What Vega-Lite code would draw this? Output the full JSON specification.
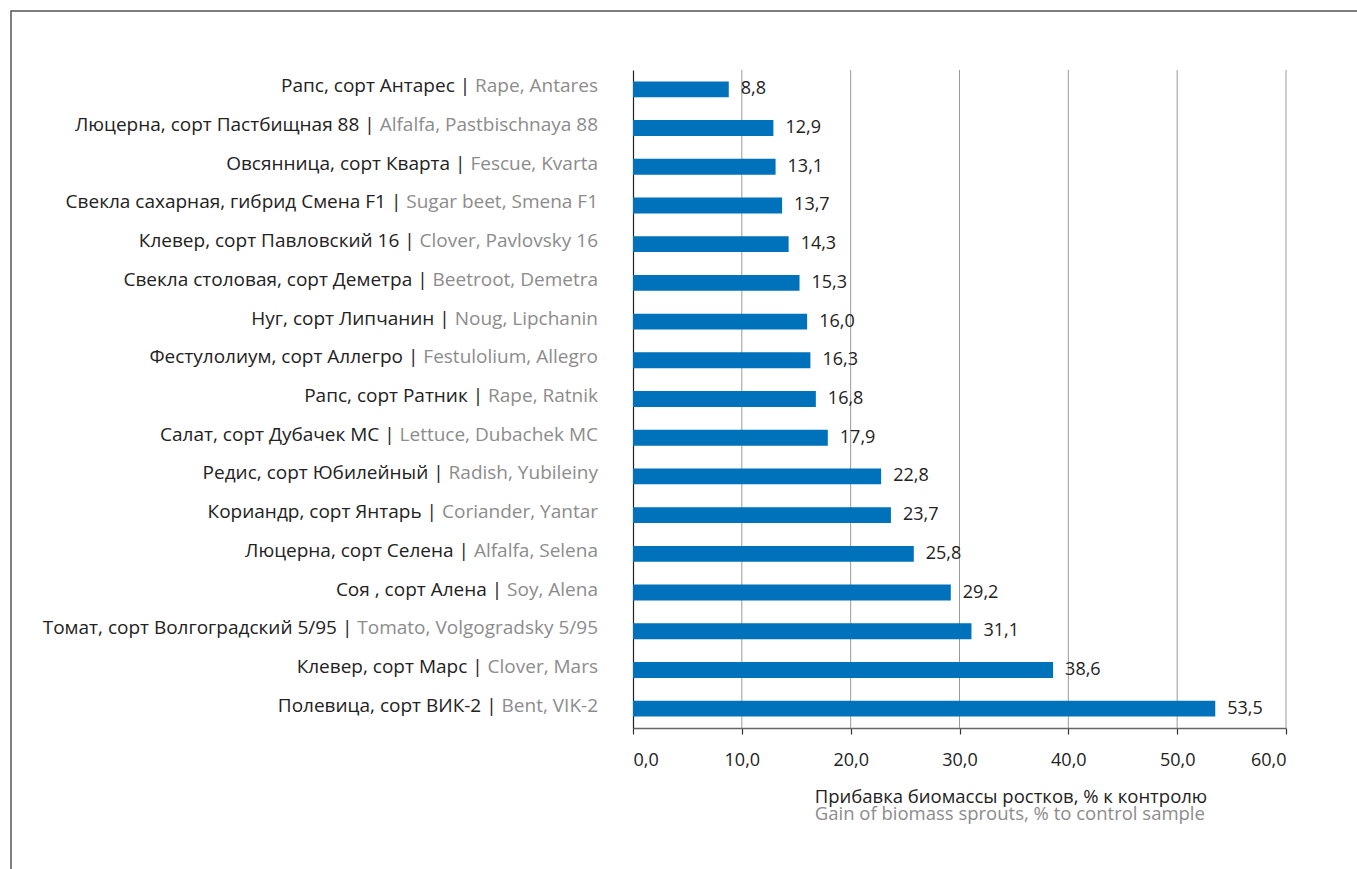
{
  "$schema": "https://vega.github.io/schema/vega-lite/v6.json",
  "width": 1346,
  "height": 858,
  "autosize": {"type": "none"},
  "padding": {"left": 11, "top": 11, "right": 0, "bottom": 0},
  "background": "white",
  "config": {
    "view": {"stroke": "#555555", "strokeWidth": 1.5, "strokeDash": [1346, 2204, 858]},
    "font": "Open Sans",
    "text": {"font": "Open Sans"},
    "locale": {"number": {"decimal": ",", "thousands": " ", "grouping": [3], "currency": ["", ""]}}
  },
  "resolve": {"scale": {"y": "independent"}, "axis": {"y": "independent"}},
  "layer": [
    {
      "layer": [
        {
          "data": {"values": [{"value": 10}, {"value": 20}, {"value": 30}, {"value": 40}, {"value": 50}, {"value": 60}]},
          "mark": {"type": "rule", "color": "#9a9a9a", "strokeWidth": 1},
          "encoding": {
            "x": {"field": "value", "type": "quantitative", "scale": {"domain": [0, 60], "range": [622, 1275], "nice": false, "zero": false}},
            "y": {"datum": 0, "type": "quantitative", "scale": {"domain": [0, 1], "range": [59, 717], "nice": false, "zero": false}, "axis": null},
            "y2": {"datum": 1}
          }
        },
        {
          "data": {"values": [{"ru": "Прибавка биомассы ростков, % к контролю", "en": "Gain of biomass sprouts, % to control sample"}]},
          "mark": {"type": "text", "font": "Open Sans", "align": "left", "baseline": "middle", "fontSize": 18.5, "color": "#222222"},
          "encoding": {
            "x": {"datum": 16.7, "type": "quantitative"},
            "y": {"datum": 1.105, "type": "quantitative"},
            "text": {"field": "ru"}
          }
        },
        {
          "data": {"values": [{"ru": "Прибавка биомассы ростков, % к контролю", "en": "Gain of biomass sprouts, % to control sample"}]},
          "mark": {"type": "text", "font": "Open Sans", "align": "left", "baseline": "middle", "fontSize": 18.5, "color": "#8c8c8c"},
          "encoding": {
            "x": {"datum": 16.7, "type": "quantitative"},
            "y": {"datum": 1.13, "type": "quantitative"},
            "text": {"field": "en"}
          }
        }
      ]
    },
    {
      "data": {
        "values": [
          {"label": "Рапс, сорт Антарес | Rape, Antares", "en": "Rape, Antares", "value": 8.8},
          {"label": "Люцерна, сорт Пастбищная 88 | Alfalfa, Pastbischnaya 88", "en": "Alfalfa, Pastbischnaya 88", "value": 12.9},
          {"label": "Овсянница, сорт  Кварта | Fescue, Kvarta", "en": "Fescue, Kvarta", "value": 13.1},
          {"label": "Свекла сахарная, гибрид Смена F1 | Sugar beet, Smena F1", "en": "Sugar beet, Smena F1", "value": 13.7},
          {"label": "Клевер, сорт Павловский 16 | Clover, Pavlovsky 16", "en": "Clover, Pavlovsky 16", "value": 14.3},
          {"label": "Свекла столовая, сорт Деметра | Beetroot, Demetra", "en": "Beetroot, Demetra", "value": 15.3},
          {"label": "Нуг, сорт Липчанин | Noug, Lipchanin", "en": "Noug, Lipchanin", "value": 16.0},
          {"label": "Фестулолиум, сорт Аллегро | Festulolium, Allegro", "en": "Festulolium, Allegro", "value": 16.3},
          {"label": "Рапс, сорт Ратник | Rape, Ratnik", "en": "Rape, Ratnik", "value": 16.8},
          {"label": "Салат, сорт Дубачек МС | Lettuce, Dubachek MC", "en": "Lettuce, Dubachek MC", "value": 17.9},
          {"label": "Редис, сорт Юбилейный | Radish, Yubileiny", "en": "Radish, Yubileiny", "value": 22.8},
          {"label": "Кориандр, сорт Янтарь | Coriander, Yantar", "en": "Coriander, Yantar", "value": 23.7},
          {"label": "Люцерна, сорт Селена | Alfalfa, Selena", "en": "Alfalfa, Selena", "value": 25.8},
          {"label": "Соя , сорт Алена | Soy, Alena", "en": "Soy, Alena", "value": 29.2},
          {"label": "Томат, сорт Волгоградский 5/95 | Tomato, Volgogradsky 5/95", "en": "Tomato, Volgogradsky 5/95", "value": 31.1},
          {"label": "Клевер, сорт Марс | Clover, Mars", "en": "Clover, Mars", "value": 38.6},
          {"label": "Полевица, сорт ВИК-2 | Bent, VIK-2", "en": "Bent, VIK-2", "value": 53.5}
        ]
      },
      "layer": [
        {
          "mark": {"type": "bar", "color": "#0071bb"},
          "encoding": {
            "y": {
              "field": "label", "type": "nominal",
              "sort": {"field": "value", "order": "ascending"},
              "scale": {"range": [59, 717], "paddingInner": 0.59, "paddingOuter": 0.295},
              "axis": {"orient": "left", "offset": -622, "labels": false, "ticks": false, "title": null, "grid": false, "domainColor": "#222222", "domainWidth": 1.2}
            },
            "x": {
              "field": "value", "type": "quantitative",
              "axis": {"orient": "bottom", "offset": -141, "values": [0, 10, 20, 30, 40, 50, 60], "format": ".1f", "grid": false, "title": null, "domainColor": "#666666", "domainWidth": 1.5, "tickColor": "#333333", "tickSize": 6, "tickWidth": 1.2, "labelFontSize": 18, "labelColor": "#222222", "labelPadding": 17, "labelFont": "Open Sans"}
            }
          }
        },
        {
          "mark": {"type": "text", "font": "Open Sans", "align": "left", "baseline": "middle", "dx": 12, "fontSize": 18, "color": "#222222"},
          "encoding": {
            "y": {"field": "label", "type": "nominal", "sort": {"field": "value", "order": "ascending"}},
            "x": {"field": "value", "type": "quantitative"},
            "text": {"field": "value", "type": "quantitative", "format": ".1f"}
          }
        },
        {
          "mark": {"type": "text", "font": "Open Sans", "align": "right", "baseline": "middle", "dx": -35, "dy": -3, "fontSize": 19, "color": "#222222"},
          "encoding": {
            "y": {"field": "label", "type": "nominal", "sort": {"field": "value", "order": "ascending"}},
            "x": {"datum": 0, "type": "quantitative"},
            "text": {"field": "label"}
          }
        },
        {
          "mark": {"type": "text", "font": "Open Sans", "align": "right", "baseline": "middle", "dx": -35, "dy": -3, "fontSize": 19, "color": "white", "stroke": "white", "strokeWidth": 2.5},
          "encoding": {
            "y": {"field": "label", "type": "nominal", "sort": {"field": "value", "order": "ascending"}},
            "x": {"datum": 0, "type": "quantitative"},
            "text": {"field": "en"}
          }
        },
        {
          "mark": {"type": "text", "font": "Open Sans", "align": "right", "baseline": "middle", "dx": -35, "dy": -3, "fontSize": 19, "color": "#8c8c8c"},
          "encoding": {
            "y": {"field": "label", "type": "nominal", "sort": {"field": "value", "order": "ascending"}},
            "x": {"datum": 0, "type": "quantitative"},
            "text": {"field": "en"}
          }
        }
      ]
    }
  ]
}
